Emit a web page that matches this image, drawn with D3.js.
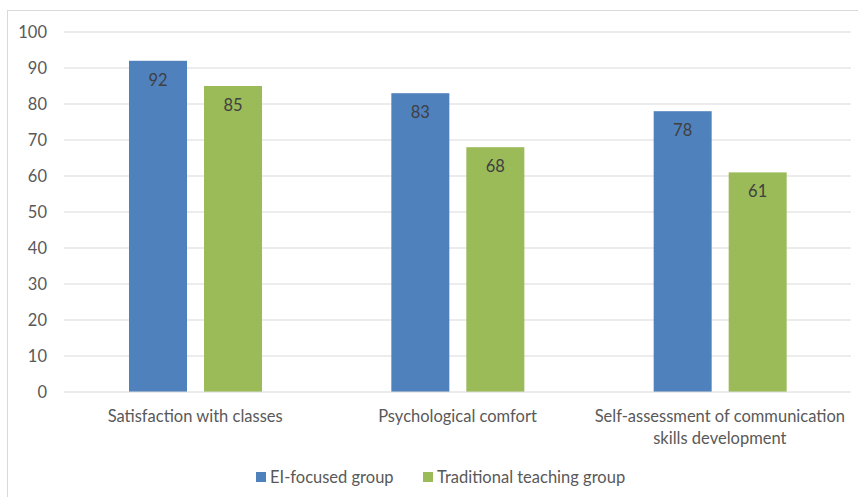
<!DOCTYPE html>
<html>
<head>
<meta charset="utf-8">
<script src="https://cdn.jsdelivr.net/npm/d3@7"></script>
<style>
  body { margin: 0; background: #fff; }
  svg { display: block; font-family: Lato, "Open Sans", sans-serif; }
</style>
</head>
<body>
<svg width="858" height="497"></svg>
<script>
var categories = ["Satisfaction with classes", "Psychological comfort", "Self-assessment of communication skills development"];
var series = ["EI-focused group", "Traditional teaching group"];
var eiValues = [92, 83, 78];
var tradValues = [85, 68, 61];
var yTicks = [0, 10, 20, 30, 40, 50, 60, 70, 80, 90, 100];
var colors = ["#4f81bd", "#9bbb59"];

var svg = d3.select("svg"),
    width = +svg.attr("width"),
    height = +svg.attr("height");
var fs = 16.5;

// chart border
svg.append("rect")
    .attr("x", 7.5).attr("y", 10.5)
    .attr("width", 860).attr("height", 500)
    .attr("fill", "none").attr("stroke", "#d9d9d9");

var plotLeft = 64, plotRight = 851, plotTop = 32, plotBottom = 392;

var x0 = d3.scaleBand().domain(categories).range([plotLeft, plotRight]);
var x1 = d3.scaleBand().domain(series).range([65, 65 + 133]).paddingInner(17 / 75);
var y = d3.scaleLinear().domain([0, 100]).range([plotBottom, plotTop]);

// gridlines
svg.append("g").selectAll("line")
    .data(yTicks.filter(d => d > 0))
    .enter().append("line")
    .attr("x1", plotLeft).attr("x2", plotRight)
    .attr("y1", d => y(d)).attr("y2", d => y(d))
    .attr("stroke", "#d9d9d9").attr("stroke-width", 1);

// y labels
svg.append("g").selectAll("text")
    .data(yTicks)
    .enter().append("text")
    .attr("x", 47).attr("y", d => y(d))
    .attr("dy", "0.35em")
    .attr("text-anchor", "end")
    .attr("font-size", fs)
    .attr("fill", "#595959")
    .text(d => d);

// bars
var rows = categories.map((c, i) => ({cat: c, vals: [eiValues[i], tradValues[i]]}));
var groups = svg.append("g").selectAll("g")
    .data(rows)
    .enter().append("g")
    .attr("transform", d => "translate(" + x0(d.cat) + ",0)");

groups.selectAll("rect")
    .data(d => d.vals.map((v, j) => ({s: series[j], v: v, j: j})))
    .enter().append("rect")
    .attr("x", d => x1(d.s))
    .attr("y", d => y(d.v))
    .attr("width", x1.bandwidth())
    .attr("height", d => y(0) - y(d.v))
    .attr("fill", d => colors[d.j]);

groups.selectAll("text.val")
    .data(d => d.vals.map((v, j) => ({s: series[j], v: v})))
    .enter().append("text")
    .attr("class", "val")
    .attr("x", d => x1(d.s) + x1.bandwidth() / 2)
    .attr("y", d => y(d.v) + 19)
    .attr("dy", "0.35em")
    .attr("text-anchor", "middle")
    .attr("font-size", fs)
    .attr("fill", "#404040")
    .text(d => d.v);

// baseline
svg.append("line")
    .attr("x1", plotLeft).attr("x2", plotRight)
    .attr("y1", y(0)).attr("y2", y(0))
    .attr("stroke", "#d9d9d9");

// category labels
var catLines = [["Satisfaction with classes"], ["Psychological comfort"], ["Self-assessment of communication", "skills development"]];
svg.append("g").selectAll("text")
    .data(categories)
    .enter().append("text")
    .attr("x", d => x0(d) + x0.bandwidth() / 2)
    .attr("y", 416)
    .attr("text-anchor", "middle")
    .attr("font-size", fs)
    .attr("fill", "#595959")
    .each(function(d, i) {
        d3.select(this).selectAll("tspan")
            .data(catLines[i])
            .enter().append("tspan")
            .attr("x", x0(d) + x0.bandwidth() / 2)
            .attr("dy", (t, k) => k === 0 ? "0.35em" : "1.35em")
            .text(t => t);
    });

// legend
var legendX = [256, 423];
var legend = svg.append("g").selectAll("g")
    .data(series)
    .enter().append("g")
    .attr("transform", (d, i) => "translate(" + legendX[i] + ",477)");
legend.append("rect")
    .attr("x", 0).attr("y", -5)
    .attr("width", 10).attr("height", 10)
    .attr("fill", (d, i) => colors[i]);
legend.append("text")
    .attr("x", 14).attr("y", 0)
    .attr("dy", "0.35em")
    .attr("font-size", fs)
    .attr("fill", "#595959")
    .text(d => d);
</script>
</body>
</html>
